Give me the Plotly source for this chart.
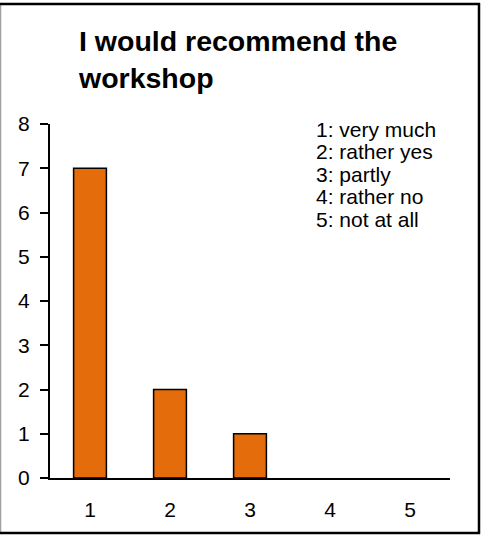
import plotly.graph_objects as go

categories = ["1", "2", "3", "4", "5"]
counts = [7, 2, 1, 0, 0]
y_ticks = [0, 1, 2, 3, 4, 5, 6, 7, 8]
title_text = "I would recommend the<br>workshop"
legend_lines = ["1: very much", "2: rather yes", "3: partly", "4: rather no", "5: not at all"]

W, H = 482, 538
L, R, T, B = 50, 32, 124, 60
pw, ph = W - L - R, H - T - B

def px(x):
    return (x - L) / pw

def py(y):
    return (H - B - y) / ph

FONT = "Liberation Sans, Arial, sans-serif"

outline_widths = [1.5 if v > 0 else 0 for v in counts]

fig = go.Figure(go.Bar(
    x=categories, y=counts, width=0.41,
    marker=dict(color="#E46C0A", line=dict(color="black", width=outline_widths)),
))

fig.update_layout(
    width=W, height=H,
    margin=dict(l=L, r=R, t=T, b=B),
    paper_bgcolor="white", plot_bgcolor="white",
    showlegend=False,
    font=dict(family=FONT, size=20, color="black"),
    xaxis=dict(showline=True, linecolor="black", linewidth=2, ticks="",
               showgrid=False, zeroline=False, ticklabelstandoff=12,
               tickfont=dict(size=21)),
    yaxis=dict(range=[0, 8], tickvals=y_ticks, showline=True, linecolor="black",
               linewidth=2, ticks="outside", ticklen=8, tickwidth=2, tickcolor="black",
               showgrid=False, zeroline=False, ticklabelstandoff=6,
               tickfont=dict(size=21)),
)

fig.add_annotation(
    text="<b>" + title_text + "</b>", xref="paper", yref="paper",
    x=px(76), y=py(60), xanchor="left", yanchor="middle", align="left",
    showarrow=False, font=dict(size=28.5, family=FONT),
)

LEG_SIZE = 21
first_baseline, step = 136, 22.6
for i, line in enumerate(legend_lines):
    fig.add_annotation(
        text=line, xref="paper", yref="paper",
        x=px(314), y=py(first_baseline + i * step - 0.33 * LEG_SIZE),
        xanchor="left", yanchor="middle", align="left",
        showarrow=False, font=dict(size=LEG_SIZE, family=FONT),
    )

# outer frame
fig.add_shape(type="line", xref="paper", yref="paper", x0=px(0.5), x1=px(0.5), y0=py(4), y1=py(533),
              line=dict(color="#A0A0A0", width=1.5))
fig.add_shape(type="line", xref="paper", yref="paper", x0=px(0), x1=px(480), y0=py(4), y1=py(4),
              line=dict(color="black", width=2.5))
fig.add_shape(type="line", xref="paper", yref="paper", x0=px(479), x1=px(479), y0=py(3), y1=py(534),
              line=dict(color="black", width=2.5))
fig.add_shape(type="line", xref="paper", yref="paper", x0=px(0), x1=px(480), y0=py(533), y1=py(533),
              line=dict(color="black", width=2.5))

fig.write_html("out.html", config={"displayModeBar": False},
               post_script="document.body.style.margin='0';document.body.style.overflow='hidden';")
